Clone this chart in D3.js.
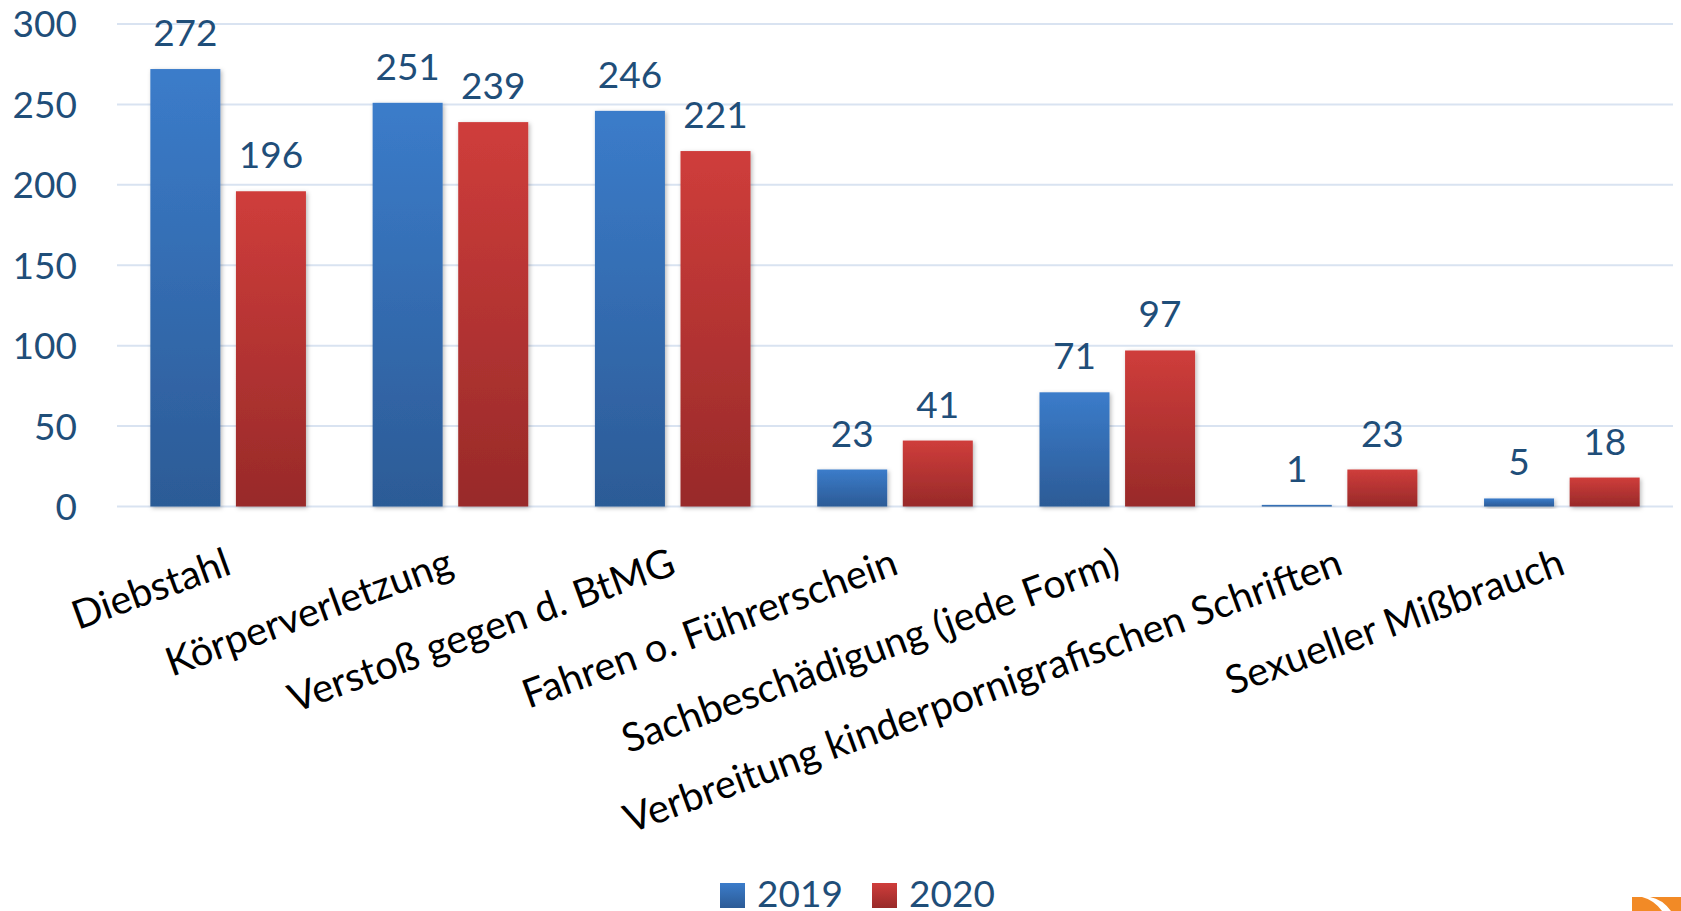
<!DOCTYPE html>
<html>
<head>
<meta charset="utf-8">
<script src="https://cdn.jsdelivr.net/npm/d3@7"></script>
<style>
  html, body { margin: 0; padding: 0; background: #ffffff; }
  svg { display: block; }
  text { font-family: Lato, "Open Sans", sans-serif; }
</style>
</head>
<body>
<svg id="chart" width="1681" height="911"></svg>
<script>
const categories = [
  "Diebstahl",
  "Körperverletzung",
  "Verstoß gegen d. BtMG",
  "Fahren o. Führerschein",
  "Sachbeschädigung (jede Form)",
  "Verbreitung kinderpornigrafischen Schriften",
  "Sexueller Mißbrauch"
];
const seriesNames = ["2019", "2020"];
const values2019 = [272, 251, 246, 23, 71, 1, 5];
const values2020 = [196, 239, 221, 41, 97, 23, 18];
const yTicks = [0, 50, 100, 150, 200, 250, 300];

const svg = d3.select("#chart");
const plot = { left: 117, right: 1673, top: 24, bottom: 506.5 };

const defs = svg.append("defs");
const grads = {
  "2019": ["#3b7cca", "#2c5b96"],
  "2020": ["#cf3d3b", "#982a29"]
};
Object.entries(grads).forEach(([k, [c1, c2]]) => {
  const g = defs.append("linearGradient").attr("id", "g" + k)
    .attr("x1", 0).attr("y1", 0).attr("x2", 0).attr("y2", 1);
  g.append("stop").attr("offset", "0%").attr("stop-color", c1);
  g.append("stop").attr("offset", "100%").attr("stop-color", c2);
});
const f = defs.append("filter").attr("id", "shadow")
  .attr("x", "-20%").attr("y", "-20%").attr("width", "140%").attr("height", "140%");
f.append("feDropShadow").attr("dx", 1.5).attr("dy", 1.5).attr("stdDeviation", 2)
  .attr("flood-color", "#000").attr("flood-opacity", 0.28);

const x0 = d3.scaleBand().domain(categories)
  .range([plot.left, plot.right]).paddingInner(0.3).paddingOuter(0.15);
const x1 = d3.scaleBand().domain(seriesNames)
  .range([0, x0.bandwidth()]).paddingInner(0.182).paddingOuter(0);
const y = d3.scaleLinear().domain([0, 300]).range([plot.bottom, plot.top]);

// gridlines
svg.append("g").selectAll("line").data(yTicks).join("line")
  .attr("x1", plot.left).attr("x2", plot.right)
  .attr("y1", d => y(d)).attr("y2", d => y(d))
  .attr("stroke", "#d9e3f1").attr("stroke-width", 2);

// y axis labels
const yAxis = d3.axisLeft(y).tickValues(yTicks).tickSize(0).tickPadding(0);
const ya = svg.append("g").attr("transform", "translate(77,0)").call(yAxis);
ya.select(".domain").remove();
ya.selectAll("text")
  .attr("fill", "#1f4e79").attr("font-size", 37).attr("dy", "0.35em")
  .style("font-family", "Lato, 'Open Sans', sans-serif");

// bars
const rows = categories.map((c, i) => ({ cat: c, vals: [
  { s: "2019", v: values2019[i] }, { s: "2020", v: values2020[i] }] }));

const groups = svg.append("g").selectAll("g").data(rows).join("g")
  .attr("transform", d => `translate(${x0(d.cat)},0)`);

groups.selectAll("rect").data(d => d.vals).join("rect")
  .attr("x", d => x1(d.s))
  .attr("y", d => y(d.v))
  .attr("width", x1.bandwidth())
  .attr("height", d => Math.max(1, y(0) - y(d.v)))
  .attr("fill", d => `url(#g${d.s})`)
  .attr("filter", "url(#shadow)");

groups.selectAll("text.val").data(d => d.vals).join("text")
  .attr("class", "val")
  .attr("x", d => x1(d.s) + x1.bandwidth() / 2)
  .attr("y", d => y(d.v) - 23)
  .attr("text-anchor", "middle")
  .attr("fill", "#1f4e79")
  .attr("font-size", 37)
  .text(d => d.v);

// category labels (rotated)
const xAxis = d3.axisBottom(x0).tickSize(0).tickPadding(0);
const xa = svg.append("g").attr("transform", `translate(0,${plot.bottom})`).call(xAxis);
xa.select(".domain").remove();
xa.selectAll(".tick text")
  .attr("fill", "#000")
  .attr("font-size", 39.7)
  .style("font-family", "Lato, 'Open Sans', sans-serif")
  .attr("text-anchor", "end")
  .attr("x", 0).attr("y", 0).attr("dy", 0)
  .attr("transform", "translate(5,67) rotate(-20)");

// legend
const legend = svg.append("g");
const legItems = [{ s: "2019", x: 720 }, { s: "2020", x: 872 }];
legItems.forEach(it => {
  legend.append("rect").attr("x", it.x).attr("y", 883).attr("width", 25).attr("height", 25)
    .attr("fill", `url(#g${it.s})`);
  legend.append("text").attr("x", it.x + 37).attr("y", 907)
    .attr("fill", "#1f4e79").attr("font-size", 37).text(it.s);
});

// corner logo fragment
const logo = svg.append("g");
logo.append("rect").attr("x", 1632).attr("y", 897).attr("width", 49).attr("height", 14).attr("fill", "#f28a26");
logo.append("path").attr("d", "M1642,897 Q1654,900 1662,911 L1671,911 Q1662,899 1650,897 Z").attr("fill", "#ffffff");
</script>
</body>
</html>
